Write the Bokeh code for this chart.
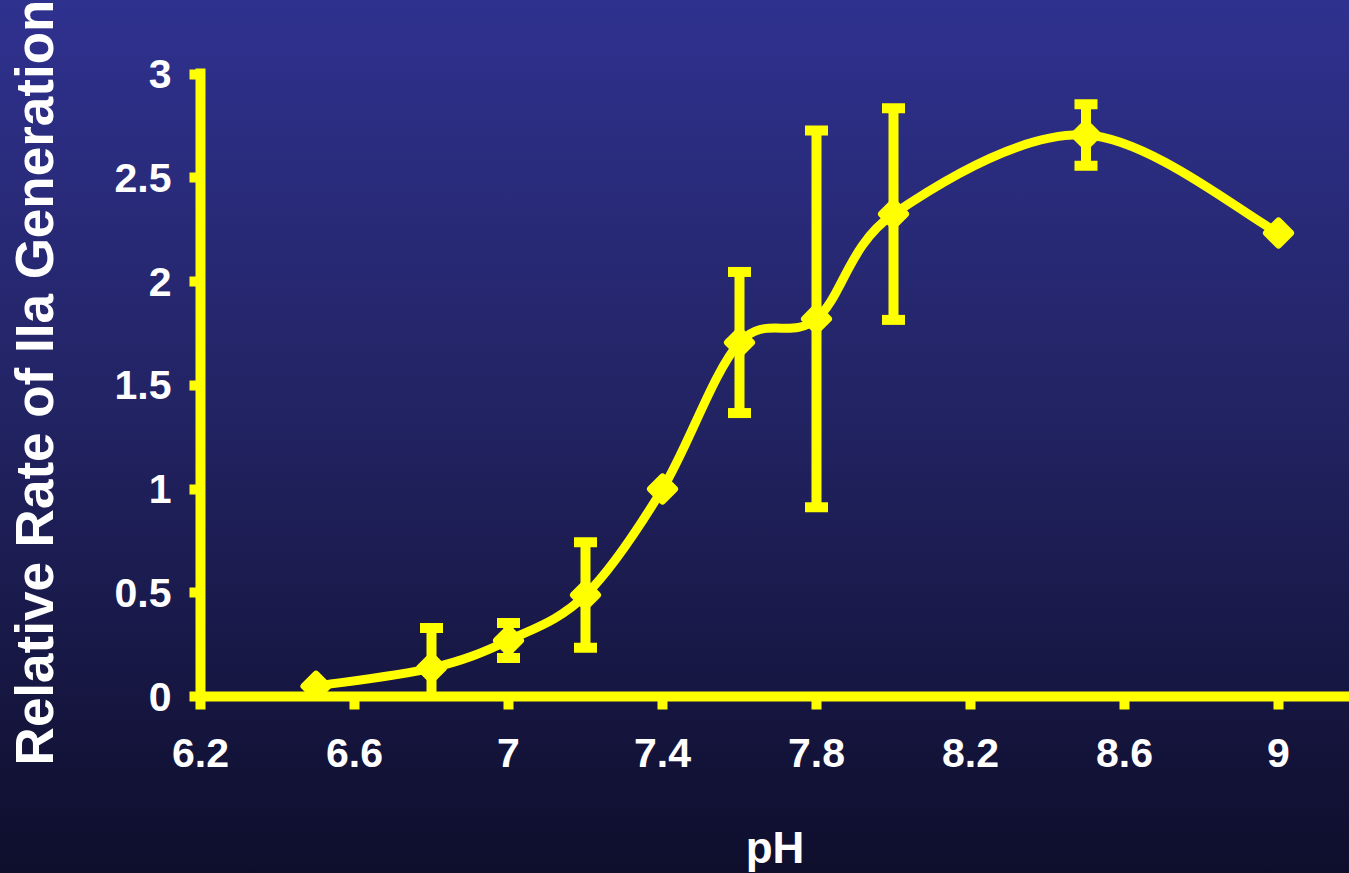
from bokeh.plotting import figure
from bokeh.models import Range1d, FixedTicker, CustomJSTickFormatter
from bokeh.embed import file_html
from bokeh.resources import INLINE
import numpy as np

# ---- data ----
ph = [6.5, 6.8, 7.0, 7.2, 7.4, 7.6, 7.8, 8.0, 8.5, 9.0]
rate = [0.05, 0.137, 0.27, 0.489, 1.0, 1.706, 1.82, 2.325, 2.706, 2.234]
err = [0.0, 0.193, 0.084, 0.254, 0.0, 0.34, 0.908, 0.51, 0.148, 0.0]
x_ticks = [6.2, 6.6, 7.0, 7.4, 7.8, 8.2, 8.6, 9.0]
x_tick_labels = ["6.2", "6.6", "7", "7.4", "7.8", "8.2", "8.6", "9"]
y_ticks = [0, 0.5, 1, 1.5, 2, 2.5, 3]
y_tick_labels = ["0", "0.5", "1", "1.5", "2", "2.5", "3"]
x_title = "pH"
y_title = "Relative Rate of IIa Generation"

YELLOW = "#ffff00"
FONT = "Liberation Sans"

p = figure(
    frame_width=1149, frame_height=628,
    min_border_left=200, min_border_right=0, min_border_top=68, min_border_bottom=177,
    x_range=Range1d(6.2, 6.2 + 1149 / 385.0),
    y_range=Range1d(0, 628 / 207.5),
    output_backend="svg", toolbar_location=None,
)
p.styles = {"background": "linear-gradient(to bottom, #2f318f 0%, #232465 45%, #0e0e2c 100%)"}
p.background_fill_alpha = 0
p.border_fill_alpha = 0
p.outline_line_color = None
p.grid.visible = False

# smoothed curve (Excel-like cubic Bezier through the data points)
xs = np.array(ph, dtype=float)
ys = np.array(rate, dtype=float)
n = len(xs)
x0, y0, x1, y1, cx0, cy0, cx1, cy1 = [], [], [], [], [], [], [], []
for i in range(n - 1):
    im1 = max(i - 1, 0)
    ip2 = min(i + 2, n - 1)
    x0.append(xs[i]); y0.append(ys[i])
    x1.append(xs[i + 1]); y1.append(ys[i + 1])
    cx0.append(xs[i] + (xs[i + 1] - xs[im1]) / 6.0)
    cy0.append(ys[i] + (ys[i + 1] - ys[im1]) / 6.0)
    cx1.append(xs[i + 1] - (xs[ip2] - xs[i]) / 6.0)
    cy1.append(ys[i + 1] - (ys[ip2] - ys[i]) / 6.0)
p.bezier(x0=x0, y0=y0, x1=x1, y1=y1, cx0=cx0, cy0=cy0, cx1=cx1, cy1=cy1,
         line_color=YELLOW, line_width=9, line_cap="round")

# error bars
ex = [x for x, e in zip(ph, err) if e > 0]
elo = [y - e for y, e in zip(rate, err) if e > 0]
ehi = [y + e for y, e in zip(rate, err) if e > 0]
p.segment(x0=ex, y0=elo, x1=ex, y1=ehi, line_color=YELLOW, line_width=10)
p.scatter(x=ex + ex, y=elo + ehi, marker="dash", size=23, line_color=YELLOW, line_width=10)

# markers
p.scatter(x=ph, y=rate, marker="square", angle=np.pi / 4, size=17,
          fill_color=YELLOW, line_color=YELLOW, line_width=7, line_join="round")

# axes
fmt_code = ("const i = vals.findIndex(v => Math.abs(v - tick) < 1e-9);"
            "return i >= 0 ? labs[i] : '';")
xa = p.xaxis[0]
ya = p.yaxis[0]
xa.ticker = FixedTicker(ticks=x_ticks)
ya.ticker = FixedTicker(ticks=y_ticks)
xa.formatter = CustomJSTickFormatter(args=dict(vals=x_ticks, labs=x_tick_labels), code=fmt_code)
ya.formatter = CustomJSTickFormatter(args=dict(vals=y_ticks, labs=y_tick_labels), code=fmt_code)
for ax in (xa, ya):
    ax.axis_line_color = YELLOW
    ax.axis_line_width = 10
    ax.major_tick_line_color = YELLOW
    ax.major_tick_line_width = 10
    ax.major_tick_in = 0
    ax.minor_tick_line_color = None
    ax.major_label_text_color = "white"
    ax.major_label_text_font = FONT
    ax.major_label_text_font_style = "bold"
    ax.major_label_text_font_size = "41px"
    ax.axis_label_text_color = "white"
    ax.axis_label_text_font = FONT
    ax.axis_label_text_font_style = "bold"
xa.major_tick_out = 13
ya.major_tick_out = 11
xa.major_label_standoff = 29
ya.major_label_standoff = 18
xa.axis_label = x_title
ya.axis_label = y_title
xa.axis_label_text_font_size = "44px"
ya.axis_label_text_font_size = "53px"
xa.axis_label_standoff = 53
ya.axis_label_standoff = 48

open("out.html", "w").write(file_html(p, INLINE))
